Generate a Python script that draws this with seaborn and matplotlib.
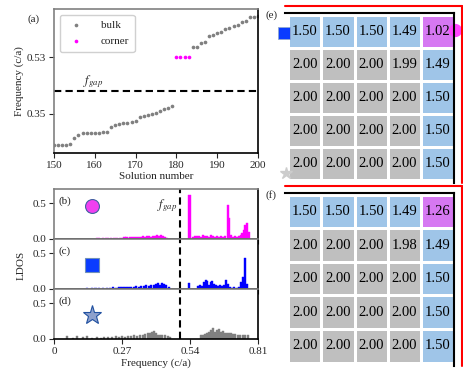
import numpy as np
import pandas as pd
import matplotlib
matplotlib.use("Agg")
import matplotlib.pyplot as plt
import seaborn as sns
from matplotlib.colors import ListedColormap
from matplotlib.lines import Line2D

sns.set_style("ticks")
plt.rcParams['font.family'] = ['Liberation Serif', 'DejaVu Serif']
plt.rcParams['mathtext.fontset'] = 'stix'
plt.rcParams['font.size'] = 8

# -----------------------
# data: (a) eigenfrequencies
# -----------------------
bulk_low_n = list(range(150, 180))
bulk_low_f = [0.252, 0.252, 0.252, 0.252, 0.253, 0.273, 0.283, 0.288, 0.289, 0.290,
              0.290, 0.291, 0.292, 0.294, 0.307, 0.314, 0.318, 0.320, 0.322, 0.325,
              0.329, 0.341, 0.344, 0.347, 0.350, 0.352, 0.360, 0.365, 0.368, 0.375]
corner_n = [180, 181, 182, 183]
corner_f = [0.53, 0.53, 0.53, 0.53]
bulk_high_n = list(range(184, 201))
bulk_high_f = [0.563, 0.563, 0.576, 0.578, 0.598, 0.600, 0.607, 0.609, 0.620, 0.622,
               0.630, 0.632, 0.642, 0.644, 0.658, 0.658, 0.660]
f_gap_a = 0.423
f_gap_ldos = 0.50

# -----------------------
# data: LDOS (b) corner, (c) edge, (d) bulk
# -----------------------
b_freq = [0.170, 0.180, 0.195, 0.205, 0.215, 0.228, 0.240, 0.250, 0.262, 0.272, 0.280,
          0.288, 0.296, 0.304, 0.312, 0.320, 0.328, 0.336, 0.344, 0.352, 0.360, 0.368,
          0.376, 0.384, 0.392, 0.400, 0.408, 0.416, 0.424, 0.432, 0.440, 0.448,
          0.538, 0.552, 0.560, 0.568, 0.576, 0.584, 0.592, 0.600, 0.608, 0.616, 0.624,
          0.632, 0.640, 0.648, 0.656, 0.664, 0.672, 0.680, 0.690, 0.696, 0.702, 0.710,
          0.718, 0.726, 0.734, 0.742, 0.748, 0.754, 0.760, 0.766, 0.772]
b_ldos = [0.008, 0.010, 0.012, 0.010, 0.015, 0.012, 0.018, 0.015, 0.020, 0.014, 0.022,
          0.030, 0.018, 0.025, 0.030, 0.028, 0.035, 0.030, 0.030, 0.038, 0.032, 0.036,
          0.040, 0.030, 0.045, 0.040, 0.060, 0.048, 0.050, 0.040, 0.030, 0.020,
          0.62, 0.030, 0.040, 0.045, 0.045, 0.035, 0.050, 0.040, 0.045, 0.030, 0.050,
          0.040, 0.035, 0.045, 0.030, 0.040, 0.035, 0.045, 0.47, 0.29, 0.050, 0.035,
          0.040, 0.030, 0.045, 0.060, 0.090, 0.120, 0.200, 0.220, 0.100]

c_freq = [0.118, 0.130, 0.150, 0.165, 0.180, 0.195, 0.210, 0.222, 0.235, 0.248, 0.260,
          0.272, 0.284, 0.296, 0.306, 0.316, 0.326, 0.336, 0.346, 0.356, 0.366, 0.376,
          0.386, 0.396, 0.406, 0.414, 0.422, 0.430, 0.438, 0.446, 0.456,
          0.537, 0.572, 0.580, 0.588, 0.596, 0.602, 0.608, 0.614, 0.622, 0.628, 0.634,
          0.642, 0.650, 0.658, 0.666, 0.676, 0.684, 0.690, 0.698, 0.706, 0.716, 0.726,
          0.736, 0.744, 0.752, 0.760, 0.768]
c_ldos = [0.005, 0.008, 0.010, 0.012, 0.010, 0.015, 0.020, 0.012, 0.025, 0.020, 0.030,
          0.022, 0.030, 0.025, 0.035, 0.030, 0.040, 0.035, 0.045, 0.040, 0.050, 0.040,
          0.060, 0.050, 0.070, 0.080, 0.060, 0.090, 0.070, 0.050, 0.030,
          0.09, 0.04, 0.05, 0.04, 0.10, 0.12, 0.11, 0.06, 0.10, 0.11, 0.07,
          0.05, 0.04, 0.06, 0.04, 0.05, 0.13, 0.07, 0.03, 0.02, 0.03, 0.02,
          0.03, 0.10, 0.17, 0.44, 0.07]

d_freq = [0.050, 0.075, 0.090, 0.115, 0.130, 0.150, 0.170, 0.185, 0.200, 0.215, 0.230,
          0.245, 0.258, 0.270, 0.282, 0.294, 0.306, 0.318, 0.330, 0.342, 0.352, 0.362,
          0.372, 0.380, 0.388, 0.396, 0.404, 0.412, 0.420, 0.430, 0.440, 0.452, 0.462,
          0.584, 0.592, 0.600, 0.608, 0.616, 0.624, 0.632, 0.640, 0.648, 0.656, 0.664,
          0.672, 0.680, 0.688, 0.696, 0.704, 0.712, 0.720, 0.730, 0.740, 0.750, 0.760,
          0.770]
d_ldos = [0.04, 0.02, 0.04, 0.03, 0.04, 0.02, 0.03, 0.02, 0.025, 0.03, 0.025,
          0.04, 0.03, 0.04, 0.035, 0.045, 0.04, 0.05, 0.045, 0.06, 0.05, 0.07,
          0.08, 0.09, 0.10, 0.11, 0.08, 0.06, 0.05, 0.06, 0.05, 0.04, 0.03,
          0.05, 0.06, 0.07, 0.08, 0.10, 0.12, 0.16, 0.10, 0.12, 0.14, 0.10,
          0.11, 0.09, 0.09, 0.08, 0.08, 0.07, 0.07, 0.06, 0.06, 0.05, 0.05,
          0.05]

# -----------------------
# data: (e), (f) field grids
# -----------------------
grid_e = [[1.50, 1.50, 1.50, 1.49, 1.02],
          [2.00, 2.00, 2.00, 1.99, 1.49],
          [2.00, 2.00, 2.00, 2.00, 1.50],
          [2.00, 2.00, 2.00, 2.00, 1.50],
          [2.00, 2.00, 2.00, 2.00, 1.50]]
grid_f = [[1.50, 1.50, 1.50, 1.49, 1.26],
          [2.00, 2.00, 2.00, 1.98, 1.49],
          [2.00, 2.00, 2.00, 2.00, 1.50],
          [2.00, 2.00, 2.00, 2.00, 1.50],
          [2.00, 2.00, 2.00, 2.00, 1.50]]
# 0 = bulk, 1 = edge, 2 = corner
cell_kind = [[1, 1, 1, 1, 2],
             [0, 0, 0, 0, 1],
             [0, 0, 0, 0, 1],
             [0, 0, 0, 0, 1],
             [0, 0, 0, 0, 1]]

W, H = 463, 377
fig = plt.figure(figsize=(W / 100, H / 100), dpi=100)


def box(x0, y0, x1, y1):
    # pixel box (top-left origin) -> figure fraction
    return [x0 / W, 1 - y1 / H, (x1 - x0) / W, (y1 - y0) / H]


def style_spines(ax):
    ax.spines['top'].set_color('#808080')
    ax.spines['left'].set_color('#808080')
    ax.spines['bottom'].set_color('black')
    ax.spines['right'].set_color('black')
    for s in ax.spines.values():
        s.set_linewidth(1.2)
    ax.tick_params(direction='out', length=3.5, width=0.8, labelsize=8, pad=2)


# -----------------------
# (a) eigenfrequencies vs solution number
# -----------------------
ax_a = fig.add_axes(box(54, 9, 258, 153))
bulk_df = pd.DataFrame({"n": bulk_low_n + bulk_high_n, "f": bulk_low_f + bulk_high_f})
corner_df = pd.DataFrame({"n": corner_n, "f": corner_f})
sns.scatterplot(data=bulk_df, x="n", y="f", color="#808080", s=7, linewidth=0,
                label="bulk", ax=ax_a)
sns.scatterplot(data=corner_df, x="n", y="f", color="#ff00ff", s=7, linewidth=0,
                label="corner", ax=ax_a)
ax_a.axhline(f_gap_a, color="black", lw=1.5, ls=(0, (3.5, 2)))
ax_a.text(157, f_gap_a + 0.004, "$f_{gap}$", fontsize=9, ha="left", va="bottom")
ax_a.set_xlim(150, 200)
ax_a.set_ylim(0.226, 0.683)
ax_a.set_xticks([150, 160, 170, 180, 190, 200])
ax_a.set_yticks([0.35, 0.53])
ax_a.set_yticklabels(["0.35", "0.53"])
ax_a.set_xlabel("Solution number", fontsize=8, labelpad=2)
ax_a.set_ylabel("Frequency (c/a)", fontsize=8, labelpad=2)
style_spines(ax_a)
leg = ax_a.legend(loc="upper left", fontsize=8, handletextpad=1.2, borderpad=0.5,
                  labelspacing=0.6, markerscale=1.0, fancybox=True, framealpha=1)
leg.get_frame().set_edgecolor("#d0d0d0")
fig.text(27 / W, 1 - 19 / H, "(a)", fontsize=8, va="center", ha="left")

# -----------------------
# (b)-(d) LDOS panels
# -----------------------
panels = [
    (b_freq, b_ldos, "#ff00ff", "(b)", 189, 0.46, dict(marker="o", ms=10, mfc="#f040f0", mec="#4060a0", mew=0.8)),
    (c_freq, c_ldos, "#0000ff", "(c)", 239, 0.33, dict(marker="s", ms=10, mfc="#0a3cff", mec="#7090b8", mew=0.8)),
    (d_freq, d_ldos, "#808080", "(d)", 289, 0.33, dict(marker="*", ms=14, mfc="#8da0cc", mec="#2050a0", mew=0.8)),
]
ldos_axes = []
for i, (fx, fy, col, lab, top, my, mk) in enumerate(panels):
    ax = fig.add_axes(box(54, top, 258, top + 50))
    ax.bar(fx, fy, width=0.0085, color=col, edgecolor=col, linewidth=0.3)
    ax.axvline(f_gap_ldos, color="black", lw=1.5, ls=(0, (3.5, 2)))
    ax.plot([0.15], [my], **mk, clip_on=False)
    ax.text(0.02, 0.76, lab, transform=ax.transAxes, fontsize=8, ha="left", va="center")
    ax.set_xlim(0, 0.81)
    ax.set_ylim(0, 0.7)
    ax.set_xticks([0, 0.27, 0.54, 0.81])
    ax.set_yticks([0.0, 0.5])
    ax.set_yticklabels(["0.0", "0.5"])
    style_spines(ax)
    if i < 2:
        ax.set_xticklabels([])
    else:
        ax.set_xticklabels(["0", "0.27", "0.54", "0.81"])
        ax.set_xlabel("Frequency (c/a)", fontsize=8, labelpad=2)
    ldos_axes.append(ax)
ldos_axes[0].text(f_gap_ldos - 0.012, 0.47, "$f_{gap}$", fontsize=9, ha="right", va="center")
fig.text(21 / W, 1 - 265 / H, "LDOS", fontsize=8, rotation=90, ha="center", va="center")

# -----------------------
# (e), (f) field grids
# -----------------------
cmap = ListedColormap(["#bfbfbf", "#9fc5e8", "#d678f2"])
for grid, (y0, y1), lab, ly in [(grid_e, (13, 183), "(e)", 15), (grid_f, (193, 366), "(f)", 195)]:
    ax = fig.add_axes(box(285, y0, 454, y1))
    sns.heatmap(np.array(cell_kind), cmap=cmap, vmin=0, vmax=2, cbar=False,
                annot=np.array(grid), fmt=".2f", annot_kws={"size": 10.5, "color": "black"},
                linewidths=0.8, linecolor="white", xticklabels=False, yticklabels=False, ax=ax)
    ax.set_xlim(-0.1, 5)
    ax.set_ylim(5.1, -0.05)
    for s in ["top", "right"]:
        ax.spines[s].set_visible(True)
        ax.spines[s].set_color("black")
        ax.spines[s].set_linewidth(1.5)
    ax.tick_params(length=0)
    fig.text(265 / W, 1 - ly / H, lab, fontsize=8, ha="left", va="center")
    # red frame outside the grid
    fig.add_artist(Line2D([285 / W, 461.5 / W], [1 - (y0 - 7) / H] * 2, color="red", lw=1.5))
    fig.add_artist(Line2D([461.5 / W] * 2, [1 - (y0 - 7) / H, 1 - y1 / H], color="red", lw=1.5))
    if lab == "(e)":
        ax.plot([-0.14], [0.57], marker="s", ms=8, mfc="#0a3cff", mec="#90a8d0", mew=0.6, clip_on=False)
        ax.plot([5.02], [0.45], marker="o", ms=8.5, mfc="#ff44ff", mec="#ff44ff", clip_on=False)
        ax.plot([-0.07], [4.81], marker="*", ms=9, mfc="#cccccc", mec="#cccccc", clip_on=False)

fig.savefig("out.png", dpi=100)
